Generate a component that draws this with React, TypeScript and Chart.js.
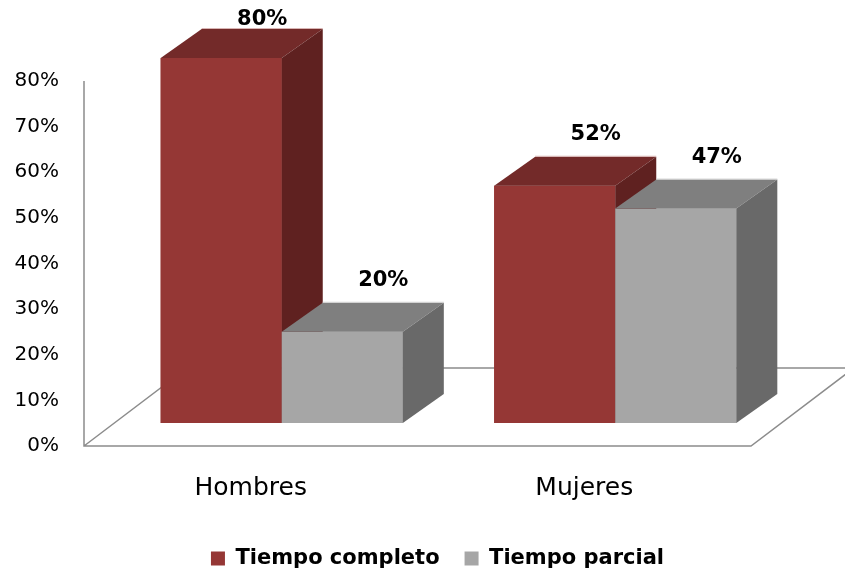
import React, { useEffect, useRef } from 'react';
import { Chart, registerables } from 'chart.js';

Chart.register(...registerables);

const categories = ['Hombres', 'Mujeres'];
const seriesNames = ['Tiempo completo', 'Tiempo parcial'];
const tiempoCompleto = [80, 52];
const tiempoParcial = [20, 47];
const yMin = 0;
const yMax = 80;
const yStep = 10;

const FONT = "'DejaVu Sans', Verdana, sans-serif";
const PLOT_BOTTOM = 423;
const PAD_BOTTOM = -9;
const BAR_DX = 41;
const BAR_DY = -29;
const FLOOR_DX = -31;
const FLOOR_DY = 23;
const BACK_DX = 103;
const BACK_DY = -78;
const LABEL_GAP = 22;
const LABEL_MIN_Y = 20;

const bar3d = {
  id: 'bar3d',
  beforeDatasetsDraw(chart: any) {
    const { ctx, chartArea, scales } = chart;
    const y = scales.y;
    const base = y.getPixelForValue(yMin);
    const top = y.getPixelForValue(yMax);
    const fl = chartArea.left + FLOOR_DX;
    const fr = chartArea.right + FLOOR_DX;
    const fy = base + FLOOR_DY;
    ctx.save();
    ctx.strokeStyle = '#8c8c8c';
    ctx.lineWidth = 1.5;
    ctx.beginPath();
    ctx.moveTo(fl, top + FLOOR_DY);
    ctx.lineTo(fl, fy);
    ctx.lineTo(fr, fy);
    ctx.lineTo(fr + BACK_DX, fy + BACK_DY);
    ctx.lineTo(fl + BACK_DX, fy + BACK_DY);
    ctx.lineTo(fl, fy);
    ctx.stroke();
    ctx.restore();
  },
  afterDatasetsDraw(chart: any) {
    const { ctx } = chart;
    ctx.save();
    chart.data.datasets.forEach((ds: any, di: number) => {
      const meta = chart.getDatasetMeta(di);
      meta.data.forEach((el: any) => {
        const { x, y, base, width } = el.getProps(['x', 'y', 'base', 'width'], true);
        const l = x - width / 2;
        const r = x + width / 2;
        ctx.fillStyle = ds.backgroundColor;
        ctx.fillRect(l, y, width, base - y);
        ctx.fillStyle = ds.topColor;
        ctx.beginPath();
        ctx.moveTo(l, y);
        ctx.lineTo(l + BAR_DX, y + BAR_DY);
        ctx.lineTo(r + BAR_DX, y + BAR_DY);
        ctx.lineTo(r, y);
        ctx.closePath();
        ctx.fill();
        ctx.fillStyle = ds.sideColor;
        ctx.beginPath();
        ctx.moveTo(r, y);
        ctx.lineTo(r + BAR_DX, y + BAR_DY);
        ctx.lineTo(r + BAR_DX, base + BAR_DY);
        ctx.lineTo(r, base);
        ctx.closePath();
        ctx.fill();
        ctx.strokeStyle = ds.edgeColor;
        ctx.lineWidth = 1;
        ctx.beginPath();
        ctx.moveTo(l + BAR_DX, y + BAR_DY - 0.5);
        ctx.lineTo(r + BAR_DX, y + BAR_DY - 0.5);
        ctx.stroke();
      });
    });
    ctx.fillStyle = '#000';
    ctx.font = `bold 21px ${FONT}`;
    ctx.textAlign = 'center';
    ctx.textBaseline = 'middle';
    chart.data.datasets.forEach((ds: any, di: number) => {
      const meta = chart.getDatasetMeta(di);
      meta.data.forEach((el: any, i: number) => {
        const { x, y } = el.getProps(['x', 'y'], true);
        const ly = Math.max(y + BAR_DY - LABEL_GAP, LABEL_MIN_Y);
        ctx.fillText(`${ds.data[i]}%`, x + BAR_DX, ly);
      });
    });
    ctx.restore();
  },
};

export default function App() {
  const ref = useRef<HTMLCanvasElement>(null);
  useEffect(() => {
    if (!ref.current) return;
    const chart = new Chart(ref.current, {
      type: 'bar',
      data: {
        labels: categories,
        datasets: [
          {
            label: seriesNames[0],
            data: tiempoCompleto,
            backgroundColor: '#953735',
            topColor: '#732a29',
            sideColor: '#5f2120',
            edgeColor: '#d8b4b3',
            categoryPercentage: 0.726,
            barPercentage: 1,
          } as any,
          {
            label: seriesNames[1],
            data: tiempoParcial,
            backgroundColor: '#a6a6a6',
            topColor: '#7f7f7f',
            sideColor: '#696969',
            edgeColor: '#d0d0d0',
            categoryPercentage: 0.726,
            barPercentage: 1,
          } as any,
        ],
      },
      options: {
        animation: false,
        responsive: false,
        maintainAspectRatio: false,
        layout: { padding: { left: 30, top: 58, right: 0, bottom: PAD_BOTTOM } },
        plugins: {
          tooltip: { enabled: false },
          legend: {
            position: 'bottom',
            labels: {
              boxWidth: 14,
              boxHeight: 14,
              padding: 25,
              color: '#000',
              font: { family: FONT, size: 21, weight: 'bold' },
            },
          },
        },
        scales: {
          x: {
            grid: { display: false, drawTicks: false },
            border: { display: false },
            ticks: {
              color: '#000',
              font: { family: FONT, size: 25 },
              padding: 50,
              labelOffset: FLOOR_DX,
            },
            afterFit: (s: any) => {
              const lh = s.chart.legend ? s.chart.legend.height : 0;
              s.height = s.chart.height - PAD_BOTTOM - lh - PLOT_BOTTOM;
            },
          },
          y: {
            min: yMin,
            max: yMax,
            grid: { display: false, drawTicks: false },
            border: { display: false },
            ticks: {
              stepSize: yStep,
              color: '#000',
              font: { family: FONT, size: 20 },
              padding: 56,
              labelOffset: FLOOR_DY,
              callback: (v: any) => `${v}%`,
            },
            afterFit: (s: any) => {
              s.width = 85;
              s.paddingTop = 0;
              s.paddingBottom = 0;
              s._computeLabelArea = () => undefined;
            },
          },
          yR: {
            position: 'right',
            display: true,
            grid: { display: false, drawTicks: false },
            border: { display: false },
            ticks: { display: false },
            afterFit: (s: any) => {
              s.width = 63;
              s.paddingTop = 0;
              s.paddingBottom = 0;
            },
          },
        },
      } as any,
      plugins: [bar3d],
    });
    return () => chart.destroy();
  }, []);
  return (
    <div style={{ position: 'fixed', left: 0, top: 0, width: 845, height: 570, background: '#fff' }}>
      <canvas ref={ref} width={845} height={570} style={{ display: 'block' }} />
    </div>
  );
}
